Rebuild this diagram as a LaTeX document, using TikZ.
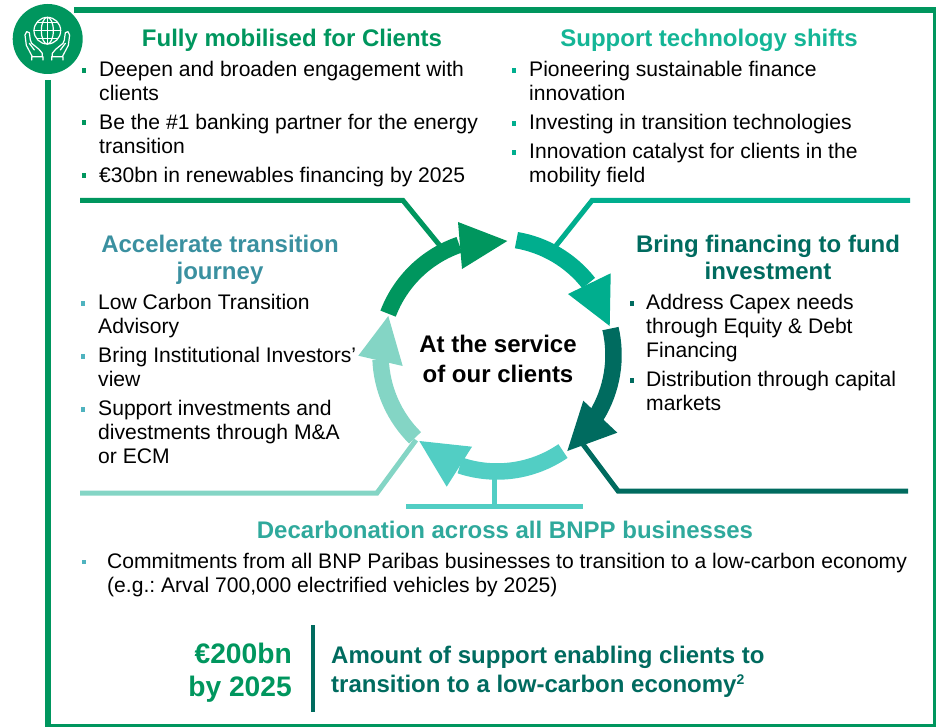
\documentclass[tikz,border=0pt]{standalone}
\usepackage{fontspec}
\setmainfont{Liberation Sans}
\definecolor{cGreen}{HTML}{00965E}
\definecolor{cTeal}{HTML}{00AE8E}
\definecolor{cDark}{HTML}{006B5F}
\definecolor{cMid}{HTML}{52CEC4}
\definecolor{cLight}{HTML}{84D5C5}
\definecolor{hTeal}{HTML}{14B596}
\definecolor{hBlue}{HTML}{3A90A0}
\definecolor{hMid}{HTML}{2FA99C}
\definecolor{bBlue}{HTML}{4FB3BF}
\tikzset{
  body/.style={anchor=north west,inner sep=0pt,align=left,text=black,yshift=-3.5pt,
    font=\fontsize{21.1}{24}\selectfont,execute at begin node=\rule{0pt}{18pt}},
  head/.style={anchor=north,inner sep=0pt,align=center,
    font=\bfseries\fontsize{24}{27}\selectfont,execute at begin node=\rule{0pt}{20pt}},
  bul/.style={rectangle,inner sep=0pt,minimum size=4.5pt},
  conn/.style={line width=5pt,miter limit=10},
  ring/.style={line width=16.5pt},
  icon/.style={draw=white,line width=1.2pt,line join=round,line cap=round},
}
\newcommand{\ringarrow}[6]{%
  \draw[ring,#1] ($(ctr)+(#2:116.5)$) arc[start angle=#2,end angle=#3,radius=116.5];
  \fill[#1] #4 -- #5 -- #6 -- cycle;}
\newcommand{\handpath}{%
  (52,140) -- (34,106) -- (30,75) -- (35,65) -- (43,68) -- (46,90) -- (50,100) -- (72,118) -- (82,130) -- (82,140)
  (43,100) -- (58,120)
  (50,140) -- (84,140) (50,140) -- (50,150) (84,140) -- (84,150)}
\usetikzlibrary{calc}
\begin{document}
\begin{tikzpicture}[x=1pt,y=1pt,yscale=-1]
\useasboundingbox (0,0) rectangle (936,727);
\coordinate (ctr) at (497,355);
% frame
\draw[cGreen,line width=6pt] (74,10.5) -- (936,10.5);
\draw[cGreen,line width=3pt] (934.5,10) -- (934.5,727);
\draw[cGreen,line width=2.6pt] (45,725.7) -- (936,725.7);
\draw[cGreen,line width=5.7pt] (47.8,80) -- (47.8,727);
% badge
\node[circle,fill=cGreen,minimum size=70pt,inner sep=0pt] (badge) at (47.7,39) {};
\begin{scope}[shift={(15,10)},scale=1/3]
  \draw[icon] (97,62) circle[radius=40];
  \draw[icon] (97,62) ellipse[x radius=18,y radius=40];
  \draw[icon] (97,22) -- (97,102);
  \draw[icon] (57,62) -- (137,62);
  \draw[icon] (66,38) -- (128,38);
  \draw[icon] (66,86) -- (128,86);
  \draw[icon] \handpath;
  \begin{scope}[shift={(194,0)},xscale=-1]
    \draw[icon] \handpath;
  \end{scope}
\end{scope}
% connector anchors
\coordinate (a1) at (80,200.5);
\coordinate (a2) at (403,200.5);
\coordinate (a3) at (441,247);
\coordinate (b1) at (910,200.5);
\coordinate (b2) at (592,200.5);
\coordinate (b3) at (555,247);
\coordinate (c1) at (908,491);
\coordinate (c2) at (618,491);
\coordinate (c3) at (582,443);
\coordinate (d1) at (406,506.7);
\coordinate (d2) at (582.7,506.7);
\coordinate (d3) at (494,506.7);
\coordinate (d4) at (494,472);
\coordinate (e1) at (80,493);
\coordinate (e2) at (377,493);
\coordinate (e3) at (416,440);
\draw[conn,cGreen] (a1) -- (a2) -- (a3);
\draw[conn,cTeal] (b1) -- (b2) -- (b3);
\draw[conn,cDark] (c1) -- (c2) -- (c3);
\draw[conn,cMid] (d1) -- (d2);
\draw[conn,cMid] (d3) -- (d4);
\draw[conn,cLight] (e1) -- (e2) -- (e3);
% ring
\ringarrow{cLight}{134.7}{177.8}{(402.7,366)}{(358.3,355.7)}{(388.3,316)}
\ringarrow{cMid}{55.5}{108.5}{(472,446.7)}{(446.7,486.7)}{(419.3,441)}
\ringarrow{cDark}{-13.1}{31.5}{(617.3,432.7)}{(583.3,400.7)}{(567.3,451)}
\ringarrow{cTeal}{279.6}{321.9}{(610.7,273.3)}{(568,294)}{(609.7,326)}
\ringarrow{cGreen}{200.8}{251.1}{(458,222)}{(462,269)}{(507.3,241)}
% centre
\node[anchor=north,inner sep=0pt,align=center,font=\bfseries\fontsize{24}{29.5}\selectfont,execute at begin node=\rule{0pt}{20pt}] (ctext) at (498,335) {At the service\\of our clients};
% top left
\node[head,text=cGreen] (h1) at (292,26) {Fully mobilised for Clients};
\node[bul,fill=cGreen] (b11) at (84,70.5) {};
\node[body] (t11) at (99,58) {Deepen and broaden engagement with\\clients};
\node[bul,fill=cGreen] (b12) at (84,122.5) {};
\node[body] (t12) at (99,111) {Be the \#1 banking partner for the energy\\transition};
\node[bul,fill=cGreen] (b13) at (84,175.5) {};
\node[body] (t13) at (99,161) {€30bn in renewables financing by 2025};
% top right
\node[head,text=hTeal] (h2) at (709,26) {Support technology shifts};
\node[bul,fill=cTeal] (b21) at (514,70.5) {};
\node[body] (t21) at (529,58) {Pioneering sustainable finance\\innovation};
\node[bul,fill=cTeal] (b22) at (514,123.5) {};
\node[body] (t22) at (529,108) {Investing in transition technologies};
\node[bul,fill=cTeal] (b23) at (514,152.5) {};
\node[body] (t23) at (529,140) {Innovation catalyst for clients in the\\mobility field};
% left
\node[head,text=hBlue] (h3) at (220,235) {Accelerate transition\\journey};
\node[bul,fill=bBlue] (b31) at (83,303.5) {};
\node[body] (t31) at (98,291) {Low Carbon Transition\\Advisory};
\node[bul,fill=bBlue] (b32) at (83,356.5) {};
\node[body] (t32) at (98,344) {Bring Institutional Investors’\\view};
\node[bul,fill=bBlue] (b33) at (83,409.5) {};
\node[body] (t33) at (98,397) {Support investments and\\divestments through M\&A\\or ECM};
% right
\node[head,text=cDark] (h4) at (768,235) {Bring financing to fund\\investment};
\node[bul,fill=cDark] (b41) at (632,303.5) {};
\node[body] (t41) at (646,291) {Address Capex needs\\through Equity \& Debt\\Financing};
\node[bul,fill=cDark] (b42) at (632,380.5) {};
\node[body] (t42) at (646,368) {Distribution through capital\\markets};
% bottom
\node[head,text=hMid] (h5) at (505,518) {Decarbonation across all BNPP businesses};
\node[bul,fill=bBlue] (b51) at (84,562) {};
\node[body] (t51) at (107,550) {Commitments from all BNP Paribas businesses to transition to a low-carbon economy\\(e.g.:\ Arval 700,000 electrified vehicles by 2025)};
\node[anchor=north east,inner sep=0pt,align=right,text=cGreen,font=\bfseries\fontsize{28.2}{32.5}\selectfont,execute at begin node=\rule{0pt}{23pt}] (amt) at (292,643) {€200bn\\by 2025};
\coordinate (s1) at (313,625);
\coordinate (s2) at (313,712);
\draw[cDark,line width=3.4pt] (s1) -- (s2);
\node[anchor=north west,inner sep=0pt,align=left,text=cDark,font=\bfseries\fontsize{24}{29}\selectfont,execute at begin node=\rule{0pt}{20pt}] (amtt) at (331,646) {Amount of support enabling clients to\\transition to a low-carbon economy\raisebox{8pt}{\fontsize{14}{14}\selectfont 2}};
\end{tikzpicture}
\end{document}
